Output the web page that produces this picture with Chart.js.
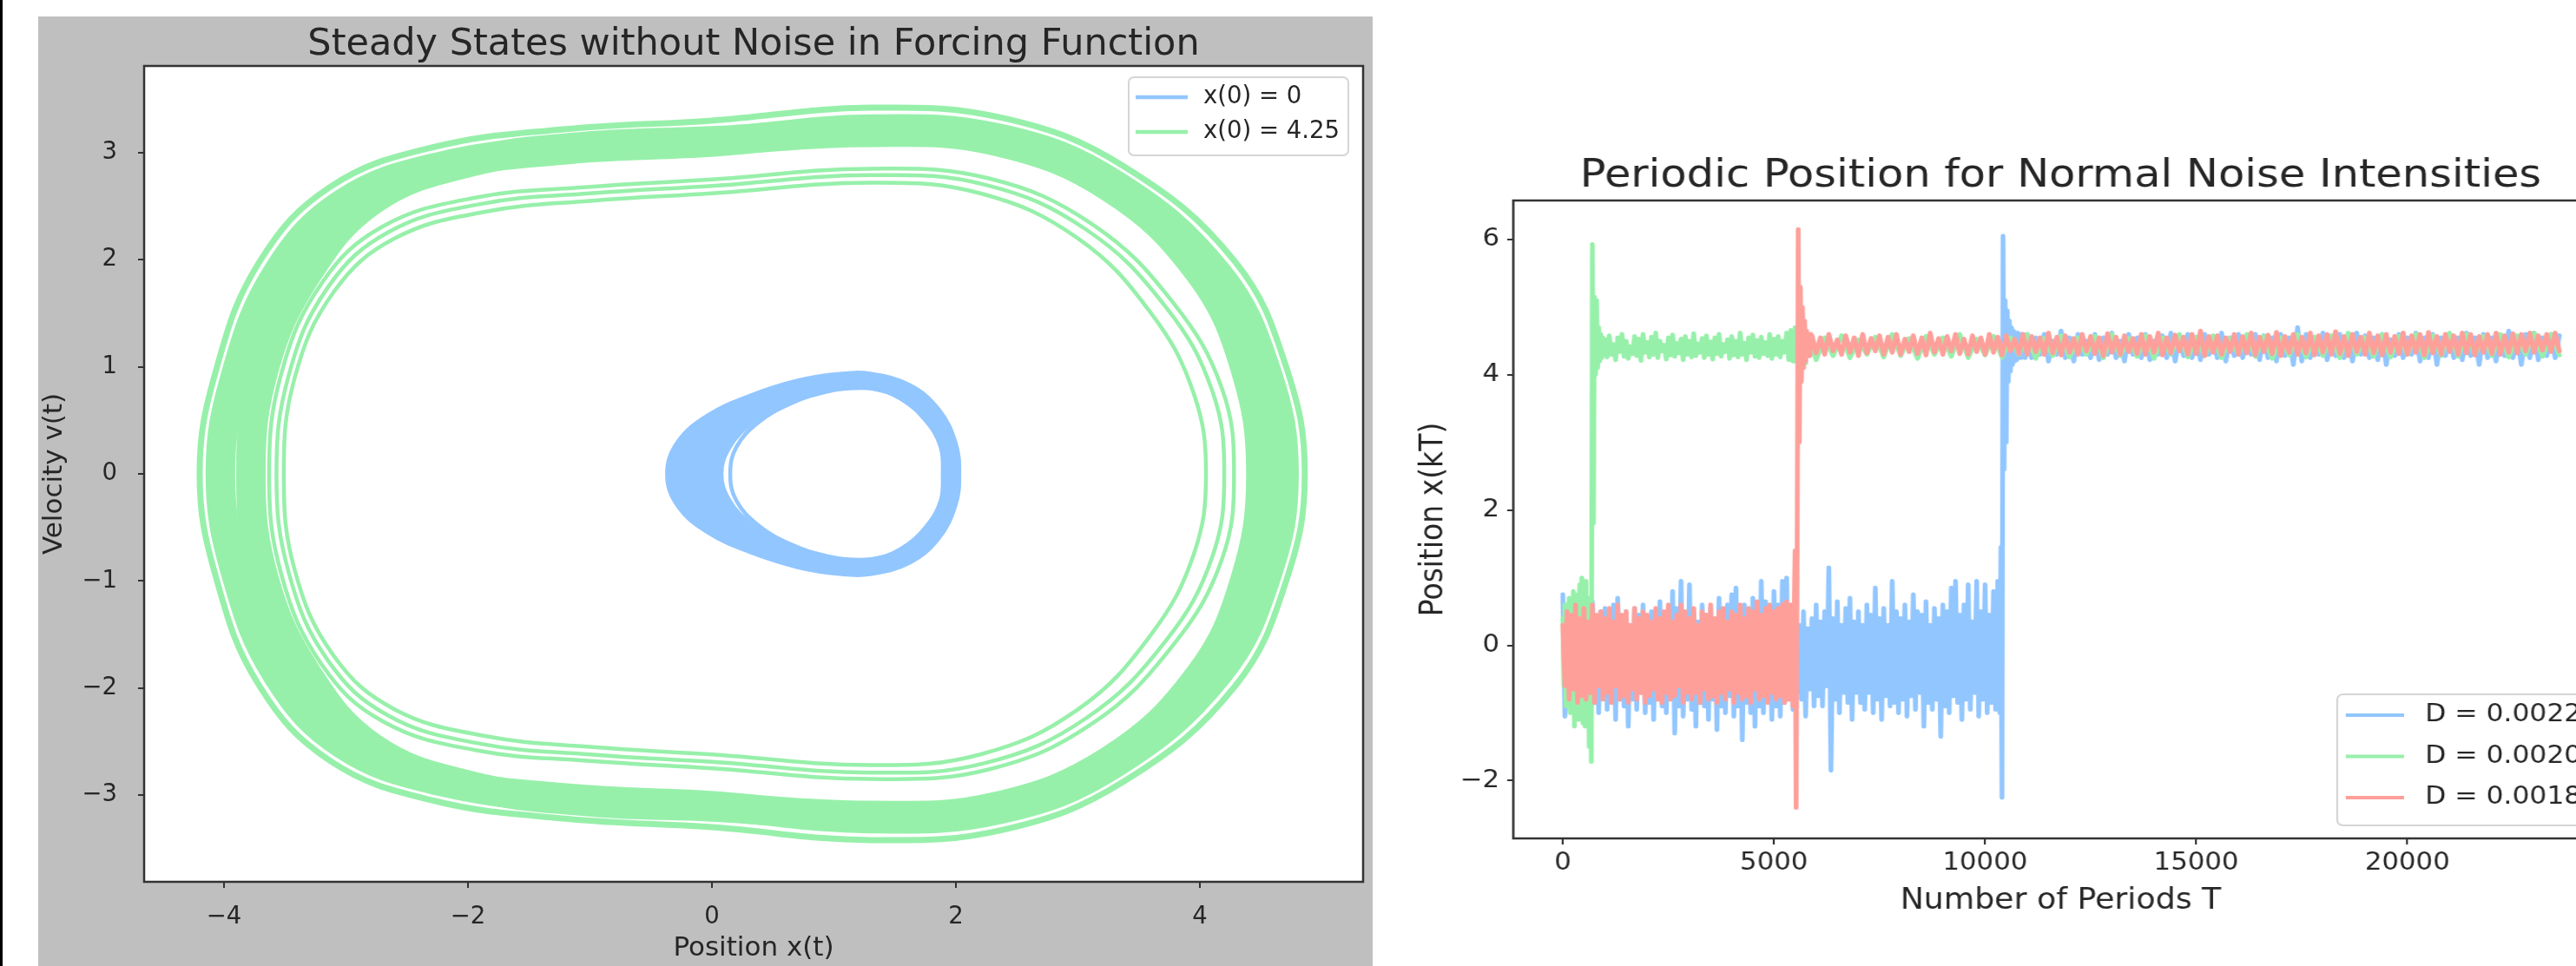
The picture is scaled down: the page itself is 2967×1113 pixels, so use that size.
<!DOCTYPE html>
<html><head><meta charset="utf-8">
<script src="https://cdn.jsdelivr.net/npm/chart.js@4.4.1/dist/chart.umd.min.js"></script>
<style>
html,body{margin:0;padding:0;background:#fff;width:2967px;height:1113px;overflow:hidden;position:relative;}
#edge{position:absolute;left:0;top:0;width:3px;height:1113px;background:#000;}
#left{position:absolute;left:44px;top:19px;width:1537px;height:1094px;background:#bfbfbf;}
#right{position:absolute;left:1581px;top:0;width:1300px;height:1113px;background:#fff;transform:scaleX(1.1);transform-origin:0 0;}
</style></head>
<body>
<div id="edge"></div>
<canvas id="left" width="1537" height="1094"></canvas>
<canvas id="right" width="1300" height="1113"></canvas>
<script>
// ---------------- LEFT PANEL DATA (phase portrait, [x, v] points) ----------------
const leftTitle = 'Steady States without Noise in Forcing Function';
const leftXLabel = 'Position x(t)';
const leftYLabel = 'Velocity v(t)';
const leftXTicks = [-4, -2, 0, 2, 4];
const leftYTicks = [-3, -2, -1, 0, 1, 2, 3];
const leftSeriesLabels = ['x(0) = 0', 'x(0) = 4.25'];

const greenOuterStrand = [[-4.2,0],[-4.06,0.99],[-3.71,1.98],[-3.13,2.68],[-2.29,3.05],[-1.2,3.22],[0,3.3],[1.3,3.42],[2.4,3.32],[3.38,2.87],[4.29,1.98],[4.71,0.99],[4.86,0],
  [4.71,-0.99],[4.29,-1.98],[3.38,-2.87],[2.4,-3.32],[1.3,-3.42],[0,-3.3],[-1.2,-3.22],[-2.29,-3.05],[-3.13,-2.68],[-3.71,-1.98],[-4.06,-0.99]];
const greenBandOuter = [[-4.03,0],[-3.9,0.94],[-3.56,1.88],[-3.02,2.53],[-2.23,2.87],[-1.18,3.03],[0.01,3.1],[1.3,3.22],[2.37,3.13],[3.29,2.71],[4.15,1.86],[4.55,0.94],[4.69,0],
  [4.55,-0.94],[4.15,-1.86],[3.29,-2.71],[2.37,-3.13],[1.3,-3.22],[0.01,-3.1],[-1.18,-3.03],[-2.23,-2.87],[-3.02,-2.53],[-3.56,-1.88],[-3.9,-0.94]];
const greenBandInner = [[-3.78,0],[-3.67,0.99],[-3.32,1.87],[-2.78,2.56],[-1.99,2.91],[-1.02,3.06],[0,3.11],[1.3,3.19],[2.32,3.11],[3.27,2.67],[4.0,1.88],[4.37,0.99],[4.5,0],
  [4.37,-0.99],[4.0,-1.88],[3.27,-2.67],[2.32,-3.11],[1.3,-3.19],[0,-3.11],[-1.02,-3.06],[-1.99,-2.91],[-2.78,-2.56],[-3.32,-1.87],[-3.67,-0.99]];
const greenTransient1 = [[-3.63,0],[-3.53,0.94],[-3.2,1.78],[-2.7,2.31],[-1.94,2.58],[-1.02,2.68],[0,2.75],[1.3,2.85],[2.27,2.76],[3.12,2.33],[3.78,1.6],[4.18,0.8],[4.28,0],
  [4.18,-0.8],[3.78,-1.6],[3.12,-2.33],[2.27,-2.76],[1.3,-2.85],[0,-2.75],[-1.02,-2.68],[-1.94,-2.58],[-2.7,-2.31],[-3.2,-1.78],[-3.53,-0.94]];
const greenTransient2 = [[-3.57,0],[-3.47,0.92],[-3.15,1.74],[-2.65,2.26],[-1.9,2.52],[-1.0,2.62],[0,2.69],[1.3,2.79],[2.24,2.7],[3.07,2.28],[3.72,1.56],[4.1,0.78],[4.2,0],
  [4.1,-0.78],[3.72,-1.56],[3.07,-2.28],[2.24,-2.7],[1.3,-2.79],[0,-2.69],[-1.0,-2.62],[-1.9,-2.52],[-2.65,-2.26],[-3.15,-1.74],[-3.47,-0.92]];
const greenTransient3 = [[-3.51,0],[-3.42,0.9],[-3.1,1.7],[-2.6,2.2],[-1.85,2.45],[-1.0,2.55],[0,2.62],[1.3,2.72],[2.2,2.62],[3.0,2.2],[3.6,1.5],[3.95,0.75],[4.05,0],
  [3.95,-0.75],[3.6,-1.5],[3.0,-2.2],[2.2,-2.62],[1.3,-2.72],[0,-2.62],[-1.0,-2.55],[-1.85,-2.45],[-2.6,-2.2],[-3.1,-1.7],[-3.42,-0.9]];

const blueLoop1 = [[-0.32,0],[-0.24,0.27],[-0.01,0.5],[0.33,0.68],[0.72,0.82],[1.05,0.88],[1.3,0.88],[1.6,0.78],[1.82,0.57],[1.95,0.28],[1.98,0],
  [1.95,-0.28],[1.82,-0.57],[1.6,-0.78],[1.3,-0.88],[1.05,-0.88],[0.72,-0.82],[0.33,-0.68],[-0.01,-0.5],[-0.24,-0.27]];
const blueLoop2 = [[-0.2,0],[-0.12,0.27],[0.08,0.5],[0.4,0.69],[0.77,0.82],[1.07,0.87],[1.31,0.87],[1.59,0.77],[1.81,0.55],[1.94,0.28],[1.965,0],
  [1.94,-0.28],[1.81,-0.55],[1.59,-0.77],[1.31,-0.87],[1.07,-0.87],[0.77,-0.82],[0.4,-0.69],[0.08,-0.5],[-0.12,-0.27]];
const blueLoop3 = [[-0.09,0],[-0.01,0.27],[0.18,0.5],[0.48,0.69],[0.83,0.82],[1.09,0.87],[1.32,0.86],[1.58,0.76],[1.8,0.54],[1.93,0.27],[1.95,0],
  [1.93,-0.27],[1.8,-0.54],[1.58,-0.76],[1.32,-0.86],[1.09,-0.87],[0.83,-0.82],[0.48,-0.69],[0.18,-0.5],[-0.01,-0.27]];
const blueLoop4 = [[0.03,0],[0.1,0.27],[0.29,0.51],[0.57,0.7],[0.9,0.82],[1.11,0.86],[1.33,0.85],[1.57,0.75],[1.79,0.53],[1.92,0.27],[1.94,0],
  [1.92,-0.27],[1.79,-0.53],[1.57,-0.75],[1.33,-0.85],[1.11,-0.86],[0.9,-0.82],[0.57,-0.7],[0.29,-0.51],[0.1,-0.27]];
const blueLoop5 = [[0.15,0],[0.2,0.25],[0.38,0.48],[0.65,0.66],[0.95,0.77],[1.15,0.8],[1.35,0.79],[1.57,0.7],[1.76,0.5],[1.88,0.25],[1.9,0],
  [1.88,-0.25],[1.76,-0.5],[1.57,-0.7],[1.35,-0.79],[1.15,-0.8],[0.95,-0.77],[0.65,-0.66],[0.38,-0.48],[0.2,-0.25]];

// ---------------- RIGHT PANEL DATA (x(kT) vs k) ----------------
const rightTitle = 'Periodic Position for Normal Noise Intensities';
const rightXLabel = 'Number of Periods T';
const rightYLabel = 'Position x(kT)';
const rightXTicks = [0, 5000, 10000, 15000, 20000];
const rightYTicks = [-2, 0, 2, 4, 6];
const rightSeriesLabels = ['D = 0.0022', 'D = 0.0020', 'D = 0.0018'];

// D = 0.0022 (blue)
const blueLow = [0.75,-1.05,0.6,-0.8,0.45,-0.95,0.7,-0.7,0.5,-0.9,0.55,-1.1,0.35,-0.75,0.65,-0.85,0.4,-1.0,0.5,-0.7,
  0.55,-0.95,0.45,-0.75,0.6,-1.1,0.7,-0.8,0.4,-0.9,0.5,-1.2,0.3,-0.8,0.55,-0.95,0.45,-0.7,0.6,-1.0,
  0.4,-0.85,0.5,-1.1,0.3,-0.8,0.65,-0.9,0.45,-1.0,0.5,-0.75,0.8,-1.3,0.55,-0.9,0.95,-1.05,0.4,-0.8,
  0.9,-0.95,0.5,-1.2,0.35,-0.85,0.6,-0.9,0.45,-1.1,0.55,-0.8,0.4,-1.25,0.7,-0.9,0.5,-1.0,0.6,-0.75,
  0.75,-1.05,0.85,-0.9,0.5,-1.4,0.6,-0.85,0.45,-1.0,0.7,-1.2,0.55,-0.9,0.95,-1.0,0.65,-0.8,0.5,-1.1,
  0.8,-0.9,0.6,-1.05,0.95,-0.85,1.0,-0.8,0.55,-0.95,0.4,-0.7,0.3,-0.8,0.5,-1.05,0.25,-0.65,0.4,-0.9,
  0.6,-0.75,0.35,-0.9,0.5,-0.6,1.15,-1.85,0.4,-0.8,0.65,-1.0,0.3,-0.7,0.55,-0.85,0.7,-1.1,0.35,-0.7,
  0.5,-0.85,0.3,-0.95,0.6,-0.7,0.45,-1.0,0.85,-0.8,0.4,-1.1,0.55,-0.75,0.3,-0.9,0.95,-0.85,0.5,-1.0,
  0.4,-0.8,0.6,-1.05,0.35,-0.75,0.75,-0.95,0.5,-0.7,0.45,-1.2,0.65,-0.85,0.3,-0.95,0.55,-0.8,0.4,-1.35,
  0.6,-0.9,0.5,-1.0,0.85,-0.75,0.95,-0.85,0.45,-1.1,0.6,-0.8,0.9,-0.95,0.35,-0.7,0.95,-1.05,0.5,-0.8,
  0.9,-1.0,0.45,-0.85,0.8,-0.95,0.95,-1.0];
const blueJump = [1.45,-2.25,6.05,2.6,5.1,3.0,4.95,3.9,4.8,4.05,4.7,4.15,4.65,4.2,4.6,4.22,4.62,4.25,4.58,4.25,4.6,4.28,4.55,4.25];
const blueHigh = [4.6,4.25,4.55,4.3,4.6,4.2,4.5,4.3,4.65,4.25,4.55,4.2,4.6,4.3,4.5,4.25,4.6,4.22,4.55,4.3,
  4.62,4.25,4.5,4.2,4.6,4.3,4.55,4.25,4.6,4.22,4.5,4.3,4.58,4.25,4.62,4.2,4.55,4.28,4.6,4.25,
  4.55,4.22,4.6,4.3,4.5,4.25,4.62,4.2,4.55,4.28,4.6,4.25,4.52,4.3,4.6,4.22,4.58,4.25,4.55,4.2,
  4.6,4.28,4.55,4.15,4.7,4.2,4.6,4.25,4.55,4.3,4.62,4.22,4.5,4.28,4.6,4.25,4.55,4.2,4.62,4.3,
  4.58,4.25,4.55,4.22,4.6,4.15,4.52,4.28,4.6,4.25,4.55,4.3,4.62,4.2,4.55,4.25,4.6,4.15,4.55,4.28,
  4.6,4.25,4.55,4.22,4.62,4.28,4.55,4.15,4.6,4.25,4.55,4.2,4.58,4.28,4.65,4.25,4.55,4.15,4.6,4.25,
  4.62,4.22,4.55,4.28,4.6,4.25,4.58];

// D = 0.0020 (green)
const greenLow = [0.4,-0.6,0.6,-0.9,0.5,-0.8,0.7,-1.0,0.55,-0.85,0.8,-1.2,0.6,-0.9,0.75,-1.1,0.9,-0.95,1.0,-1.15,0.85,-1.2,0.95,-1.0,0.7,-1.5,0.6,-1.72];
const greenJump = [5.93,1.8,5.15,4.0,5.1,4.1,4.7,4.2,4.6,4.25,4.55,4.3];
const greenMid = [4.52,4.26,4.58,4.3,4.45,4.22,4.55,4.34,4.6,4.27,
  4.5,4.24,4.42,4.31,4.57,4.28,4.53,4.21,4.6,4.33,
  4.48,4.26,4.56,4.3,4.62,4.25,4.5,4.35,4.44,4.23,
  4.55,4.29,4.59,4.27,4.47,4.32,4.53,4.22,4.57,4.3,
  4.5,4.26,4.61,4.28,4.46,4.33,4.54,4.25,4.58,4.3,
  4.49,4.23,4.55,4.31,4.6,4.27,4.45,4.34,4.52,4.24,
  4.57,4.29,4.5,4.26,4.62,4.3,4.47,4.22,4.55,4.33,
  4.59,4.27,4.51,4.25,4.56,4.31,4.48,4.28,4.6,4.24,
  4.53,4.3,4.57,4.26,4.5,4.33,4.62,4.22,4.66,4.2,
  4.7,4.18,4.74,4.15,4.72,4.17];
const greenHigh = [4.6,4.22,4.55,4.28,4.58,4.25,4.52,4.3,4.56,4.26,4.6,4.28,4.54,4.24,4.57,4.3,4.55,4.27,4.6,4.25,
  4.53,4.29,4.57,4.26,4.55,4.3,4.6,4.24,4.54,4.28,4.58,4.26,4.55,4.3,4.57,4.25,4.6,4.28,4.54,4.27,
  4.58,4.24,4.55,4.3,4.6,4.26,4.56,4.28,4.58,4.25,4.54,4.3,4.6,4.27,4.57,4.24,4.55,4.29,4.6,4.26,
  4.56,4.28,4.58,4.25,4.62,4.3,4.55,4.27,4.6,4.26,4.57,4.3,4.6,4.25,4.58,4.28,4.62,4.27,4.6,4.3,
  4.57,4.28,4.6,4.26,4.58,4.3,4.62,4.27,4.6,4.29];

// D = 0.0018 (red)
const redLow = [0.3,-0.6,0.5,-0.8,0.45,-0.65,0.6,-0.85,0.4,-0.75,0.55,-0.8,0.35,-0.7,0.6,-0.85,0.45,-0.6,0.5,-0.8,
  0.4,-0.7,0.55,-0.85,0.35,-0.6,0.6,-0.8,0.45,-0.75,0.5,-0.85,0.3,-0.65,0.55,-0.8,0.4,-0.7,0.5,-0.85,
  0.45,-0.75,0.35,-0.65,0.55,-0.8,0.4,-0.85,0.5,-0.7,0.6,-0.8,0.35,-0.75,0.45,-0.6,0.6,-0.85,0.5,-0.7,
  0.4,-0.8,0.55,-0.7,0.3,-0.85,0.5,-0.65,0.45,-0.8,0.6,-0.75,0.4,-0.85,0.5,-0.7,0.55,-0.8,0.35,-0.65,
  0.5,-0.85,0.45,-0.7,0.6,-0.8,0.4,-0.75,0.55,-0.85,0.5,-0.65,0.65,-0.8,0.45,-0.75,0.55,-0.85,0.6,-0.7,
  0.5,-0.8,0.55,-0.75,0.6,-0.85,0.65,-0.8,0.6,-0.9];
const redJump = [1.4,-2.4,1.5,6.15,3.0,5.3,3.9,5.0,4.1,4.8,4.2,4.65,4.3,4.6,4.28,4.6];
const redHigh = [4.58,4.32,4.55,4.3,4.6,4.35,4.52,4.3,4.58,4.33,4.55,4.28,4.6,4.32,4.54,4.35,4.58,4.3,4.56,4.33,
  4.6,4.3,4.53,4.34,4.58,4.31,4.55,4.29,4.62,4.33,4.54,4.3,4.57,4.35,4.6,4.31,4.53,4.3,4.58,4.34,
  4.55,4.3,4.6,4.33,4.56,4.29,4.58,4.35,4.53,4.31,4.6,4.3,4.57,4.34,4.55,4.3,4.62,4.32,4.56,4.29,
  4.58,4.33,4.54,4.3,4.6,4.35,4.57,4.31,4.55,4.28,4.61,4.33,4.56,4.3,4.58,4.34,4.54,4.31,4.6,4.3,
  4.57,4.33,4.62,4.29,4.55,4.32,4.59,4.35,4.56,4.3,4.6,4.31,4.65,4.28,4.57,4.33,4.58,4.3,4.55,4.34,
  4.6,4.3,4.57,4.32,4.62,4.29,4.56,4.34,4.59,4.31,4.63,4.28,4.57,4.33,4.6,4.3,4.56,4.32,4.62,4.29,
  4.58,4.33,4.6,4.3,4.64,4.31,4.57,4.28,4.6,4.34,4.56,4.3,4.62,4.32,4.58,4.29,4.6,4.33,4.57,4.31,
  4.62,4.3,4.58,4.33,4.6,4.29,4.63,4.32,4.57,4.3,4.6,4.34,4.58,4.3,4.62,4.32,4.6,4.29,4.57,4.33,
  4.6,4.31,4.62,4.3,4.58,4.33,4.61,4.32,4.6,4.35,4.62,4.33,4.58,4.36,4.6,4.34,4.62,4.35];

// ---------------- STYLE ----------------
const FONT = "'DejaVu Sans', sans-serif";
const TXT = '#262626';
const AX = '#333333';
const BLUE = '#92C6FF', GREEN = '#97F0AA', RED = '#FF9F9A';

// closed trajectory: repeat neighbours at both ends so the spline is smooth; the two helper segments are hidden
function loop(pts) {
  const d = pts.map(p => ({x: p[0], y: p[1]}));
  return [d[d.length - 1], ...d, d[0], d[1]];
}
function series(parts) {
  const out = [];
  parts.forEach(([start, step, vals]) => vals.forEach((v, i) => out.push({x: start + i * step, y: v})));
  return out;
}
function fmt(v) { return v < 0 ? '\u2212' + (-v) : String(v); }

const panelPlugin = {
  id: 'panel',
  beforeDraw(chart, args, o) {
    const {ctx, chartArea: a} = chart;
    ctx.save();
    ctx.fillStyle = '#ffffff';
    ctx.fillRect(a.left, a.top, a.right - a.left, a.bottom - a.top);
    ctx.restore();
  },
  afterDraw(chart, args, o) {
    const {ctx, chartArea: a} = chart;
    ctx.save();
    ctx.strokeStyle = AX; ctx.lineWidth = o.frameWidth;
    ctx.strokeRect(a.left, a.top, a.right - a.left, a.bottom - a.top);
    ctx.fillStyle = TXT; ctx.font = o.titleSize + 'px ' + FONT;
    ctx.textAlign = 'center'; ctx.textBaseline = 'alphabetic';
    ctx.fillText(o.title, (a.left + a.right) / 2, o.titleY);
    const L = o.legend;
    ctx.beginPath();
    if (ctx.roundRect) ctx.roundRect(L.x, L.y, L.w, L.h, 6); else ctx.rect(L.x, L.y, L.w, L.h);
    ctx.fillStyle = 'rgba(255,255,255,0.85)'; ctx.fill();
    ctx.strokeStyle = '#d5d5d5'; ctx.lineWidth = 2; ctx.stroke();
    ctx.font = L.size + 'px ' + FONT; ctx.textAlign = 'left'; ctx.textBaseline = 'middle';
    L.labels.forEach((lab, i) => {
      const y = L.y0 + i * L.dy;
      ctx.strokeStyle = L.colors[i]; ctx.lineWidth = L.lw; ctx.lineCap = 'butt';
      ctx.beginPath(); ctx.moveTo(L.lx0, y); ctx.lineTo(L.lx1, y); ctx.stroke();
      ctx.fillStyle = TXT; ctx.fillText(lab, L.tx, y);
    });
    ctx.restore();
  }
};

function axis(o) {
  return {
    type: 'linear', min: o.min, max: o.max,
    afterBuildTicks: s => { s.ticks = o.ticks.map(v => ({value: v})); },
    afterFit: s => { if (o.horizontal) s.height = o.size; else s.width = o.size; },
    ticks: {font: {family: FONT, size: o.tickSize}, color: TXT, padding: o.tickPad, maxRotation: 0, minRotation: 0, autoSkip: false, callback: v => fmt(v)},
    grid: {display: true, drawOnChartArea: false, drawTicks: true, tickLength: o.tickLen, tickWidth: 2, tickColor: AX, color: AX, lineWidth: 2},
    border: {display: false},
    title: {display: true, text: o.label, font: {family: FONT, size: o.labelSize}, color: TXT, padding: o.labelPad}
  };
}

const lineBase = {showLine: true, pointRadius: 0, pointHoverRadius: 0, fill: false, borderJoinStyle: 'round', borderCapStyle: 'round'};
const hideHelperSegments = {
  borderColor: ctx => {
    const n = ctx.chart.data.datasets[ctx.datasetIndex].data.length;
    return (ctx.p0DataIndex === 0 || ctx.p1DataIndex === n - 1) ? 'rgba(0,0,0,0)' : undefined;
  }
};

// ---------------- LEFT CHART ----------------
const greenLoops = [[greenOuterStrand, 7], [greenBandOuter, 34], [greenBandInner, 34], [greenTransient1, 4.5], [greenTransient2, 4.5], [greenTransient3, 4.5]];
const blueLoops = [[blueLoop1, 18], [blueLoop2, 18], [blueLoop3, 18], [blueLoop4, 18], [blueLoop5, 4.5]];
const leftSets = [];
blueLoops.forEach(([pts, w]) => leftSets.push(Object.assign({}, lineBase, {label: leftSeriesLabels[0], data: loop(pts), borderColor: BLUE, backgroundColor: BLUE, borderWidth: w, tension: 0.4, segment: hideHelperSegments})));
greenLoops.forEach(([pts, w]) => leftSets.push(Object.assign({}, lineBase, {label: leftSeriesLabels[1], data: loop(pts), borderColor: GREEN, backgroundColor: GREEN, borderWidth: w, tension: 0.4, segment: hideHelperSegments})));

new Chart(document.getElementById('left'), {
  type: 'scatter',
  data: {datasets: leftSets},
  plugins: [panelPlugin],
  options: {
    responsive: false, animation: false, events: [], devicePixelRatio: 1,
    layout: {padding: {left: 0, right: 11, top: 57, bottom: 0}},
    plugins: {
      legend: {display: false}, title: {display: false}, tooltip: {enabled: false},
      panel: {frameWidth: 2.5, title: leftTitle, titleSize: 43, titleY: 44,
        legend: {x: 1256, y: 70, w: 253, h: 90, y0: 93, dy: 40, lx0: 1264, lx1: 1324, tx: 1342, size: 27.5, lw: 4.5,
          labels: leftSeriesLabels, colors: [BLUE, GREEN]}}
    },
    scales: {
      x: axis({horizontal: true, min: -4.655, max: 5.338, ticks: leftXTicks, size: 97, tickSize: 27.5, tickPad: 17, tickLen: 7, label: leftXLabel, labelSize: 31, labelPad: {top: 0, bottom: 1.4}}),
      y: axis({horizontal: false, min: -3.81, max: 3.81, ticks: leftYTicks, size: 122, tickSize: 27.5, tickPad: 24, tickLen: 7, label: leftYLabel, labelSize: 31, labelPad: {top: 0.4, bottom: 0}})
    }
  }
});

// ---------------- RIGHT CHART ----------------
const rightSets = [
  Object.assign({}, lineBase, {label: rightSeriesLabels[0], order: 2, data: series([[0, 50, blueLow], [10375, 25, blueJump], [11000, 100, blueHigh]]), borderColor: BLUE, backgroundColor: BLUE, borderWidth: 5, tension: 0}),
  Object.assign({}, lineBase, {label: rightSeriesLabels[1], order: 1, data: series([[0, 25, greenLow], [700, 25, greenJump], [1000, 50, greenMid], [5800, 200, greenHigh]]), borderColor: GREEN, backgroundColor: GREEN, borderWidth: 5, tension: 0}),
  Object.assign({}, lineBase, {label: rightSeriesLabels[2], order: 0, data: series([[0, 50, redLow], [5500, 25, redJump], [5900, 100, redHigh]]), borderColor: RED, backgroundColor: RED, borderWidth: 5, tension: 0})
];

new Chart(document.getElementById('right'), {
  type: 'scatter',
  data: {datasets: rightSets},
  plugins: [panelPlugin],
  options: {
    responsive: false, animation: false, events: [], devicePixelRatio: 1,
    layout: {padding: {left: 0, right: 6.4, top: 231, bottom: 0}},
    plugins: {
      legend: {display: false}, title: {display: false}, tooltip: {enabled: false},
      panel: {frameWidth: 2.5, title: rightTitle, titleSize: 45, titleY: 215,
        legend: {x: 1010, y: 800, w: 320, h: 151, y0: 824, dy: 47.5, lx0: 1019, lx1: 1080, tx: 1102, size: 28.5, lw: 4,
          labels: rightSeriesLabels, colors: [BLUE, GREEN, RED]}}
    },
    scales: {
      x: axis({horizontal: true, min: -1172, max: 24753, ticks: rightXTicks, size: 147, tickSize: 28, tickPad: 5, tickLen: 7, label: rightXLabel, labelSize: 33, labelPad: {top: 0, bottom: 55}}),
      y: axis({horizontal: false, min: -2.854, max: 6.577, ticks: rightYTicks, size: 147.3, tickSize: 28, tickPad: 8, tickLen: 6.4, label: rightYLabel, labelSize: 33, labelPad: {top: 44.7, bottom: 0}})
    }
  }
});
</script>
</body></html>
